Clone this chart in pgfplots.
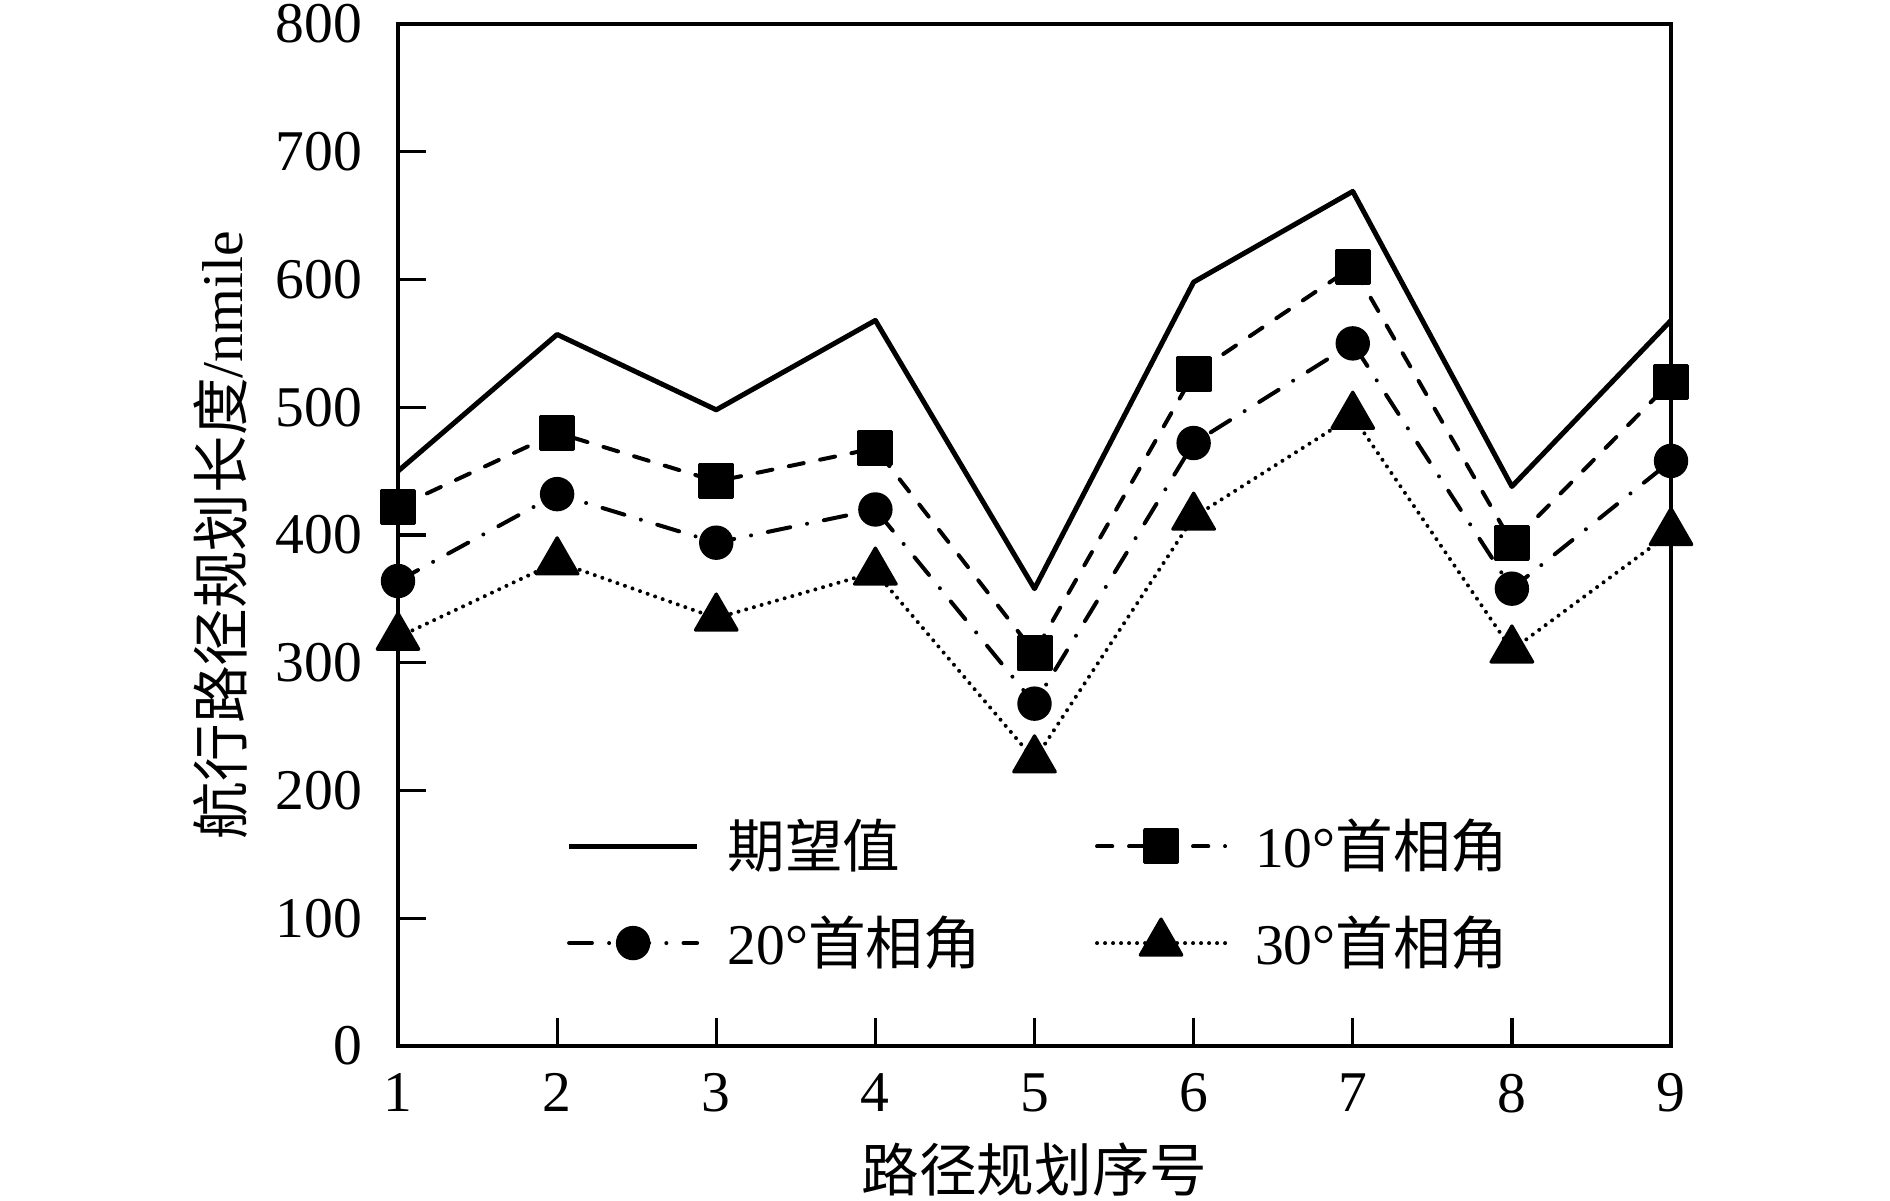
\documentclass[border=0pt]{standalone}
\usepackage{fontspec}
\setmainfont{Liberation Serif}
\newfontfamily\cjk{Noto Sans CJK SC}
\usepackage{pgfplots}
\pgfplotsset{compat=1.18}
\newcommand\fs{\fontsize{14.4pt}{17pt}\selectfont}
\begin{document}
\begin{tikzpicture}
\path[use as bounding box] (-99.5pt,-38.5pt) rectangle (373pt,261.5pt);
\begin{axis}[
  scale only axis, width=318.25pt, height=255.5pt,
  xmin=1, xmax=9, ymin=0, ymax=800,
  xtick={1,...,9}, ytick={0,100,...,800},
  tick pos=left, tick align=inside,
  axis line style={line width=0.8pt},
  every tick/.style={black, line width=0.8pt},
  major tick length=7pt,
  /pgf/number format/assume math mode=true,
  tick label style={font=\fs},
  yticklabel style={anchor=east, inner sep=0pt, xshift=-8.75pt},
  xticklabel style={anchor=north, inner sep=0pt, yshift=-6.75pt},
  xlabel={\cjk 路径规划序号},
  ylabel={\cjk 航行路径规划长度\normalfont/nmile},
  label style={font=\fs},
  xlabel style={at={(axis description cs:0.5,-0.1213)}, anchor=center, inner sep=0pt},
  ylabel style={at={(axis description cs:-0.1398,0.5)}, anchor=center, inner sep=0pt, rotate=0},
  clip=false,
  legend columns=2,
  legend cell align=left,
  legend style={at={(0.5024,0.148)}, anchor=center, draw=none, fill=none, font=\fs,
    row sep=10.5pt, nodes={inner sep=0pt},
    /tikz/every odd column/.append style={column sep=7pt},
    /tikz/every even column/.append style={column sep=28.5pt}},
  legend image code/.code={\draw[mark repeat=2,mark phase=2,#1] plot coordinates {(0pt,0pt) (16pt,0pt) (32pt,0pt)};},
]
\addplot[black, line width=1.25pt, line join=round] coordinates {
  (1,450)(2,557)(3,498)(4,568)(5,358)(6,598)(7,669)(8,438)(9,568)};
\addlegendentry{\cjk 期望值}
\addplot[black, line width=1pt, line cap=round, line join=round, dash pattern=on 3.8pt off 4.2pt,
  mark=square*, mark size=4.1pt, mark options={solid, line width=0.8pt, line join=round}] coordinates {
  (1,422)(2,480)(3,442)(4,468)(5,308)(6,526)(7,610)(8,394)(9,520)};
\addlegendentry{10°\cjk 首相角}
\addplot[black, line width=1pt, line cap=round, line join=round, dash pattern=on 5.7pt off 4.3pt on 0pt off 4.3pt,
  mark=*, mark size=3.9pt, mark options={solid, line width=0.8pt}] coordinates {
  (1,364)(2,432)(3,394)(4,420)(5,268)(6,472)(7,550)(8,358)(9,458)};
\addlegendentry{20°\cjk 首相角}
\addplot[black, line width=1pt, line cap=round, line join=round, dash pattern=on 0pt off 2pt,
  mark=triangle*, mark size=6pt, mark options={solid, line width=0.8pt, line join=round}] coordinates {
  (1,320)(2,379)(3,335)(4,371)(5,224)(6,414)(7,493)(8,310)(9,402)};
\addlegendentry{30°\cjk 首相角}
\end{axis}
\end{tikzpicture}
\end{document}
